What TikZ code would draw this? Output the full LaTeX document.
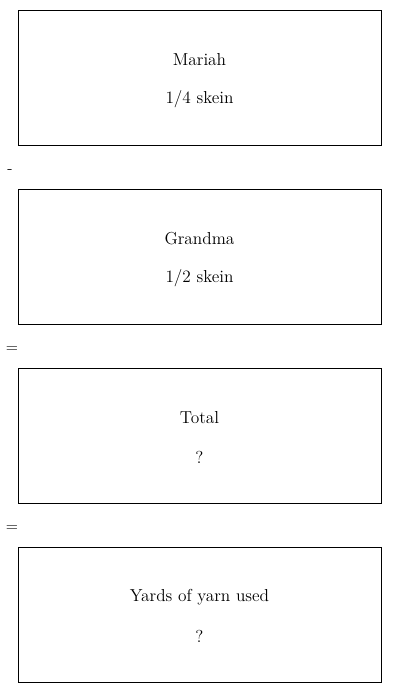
\documentclass[tikz,border=0pt]{standalone}
\begin{document}
\begin{tikzpicture}[x=0.75pt,y=-0.75pt,
  card/.style={draw=black,line width=0.6pt,minimum width=272.25pt,minimum height=101.25pt,inner sep=0pt},
  lbl/.style={font=\fontsize{13}{15}\selectfont,inner sep=0pt},
  op/.style={font=\fontsize{12}{14}\selectfont,inner sep=0pt}]
\useasboundingbox (0,0) rectangle (400,693);
\node[card] (b1) at (199.5,77.5) {};
\node[lbl] (t1a) at (199.5,60) {Mariah};
\node[lbl] (t1b) at (199.5,99) {1/4 skein};
\node[op] (o1) at (10,171.5) {-};
\node[card] (b2) at (199.5,256.5) {};
\node[lbl] (t2a) at (199.5,239) {Grandma};
\node[lbl] (t2b) at (199.5,278) {1/2 skein};
\node[op] (o2) at (12,349.5) {=};
\node[card] (b3) at (199.5,435.5) {};
\node[lbl] (t3a) at (199.5,418) {Total};
\node[lbl] (t3b) at (199.5,457) {?};
\node[op] (o3) at (12,528.5) {=};
\node[card] (b4) at (199.5,614.5) {};
\node[lbl] (t4a) at (199.5,597) {Yards of yarn used};
\node[lbl] (t4b) at (199.5,636) {?};
\end{tikzpicture}
\end{document}
